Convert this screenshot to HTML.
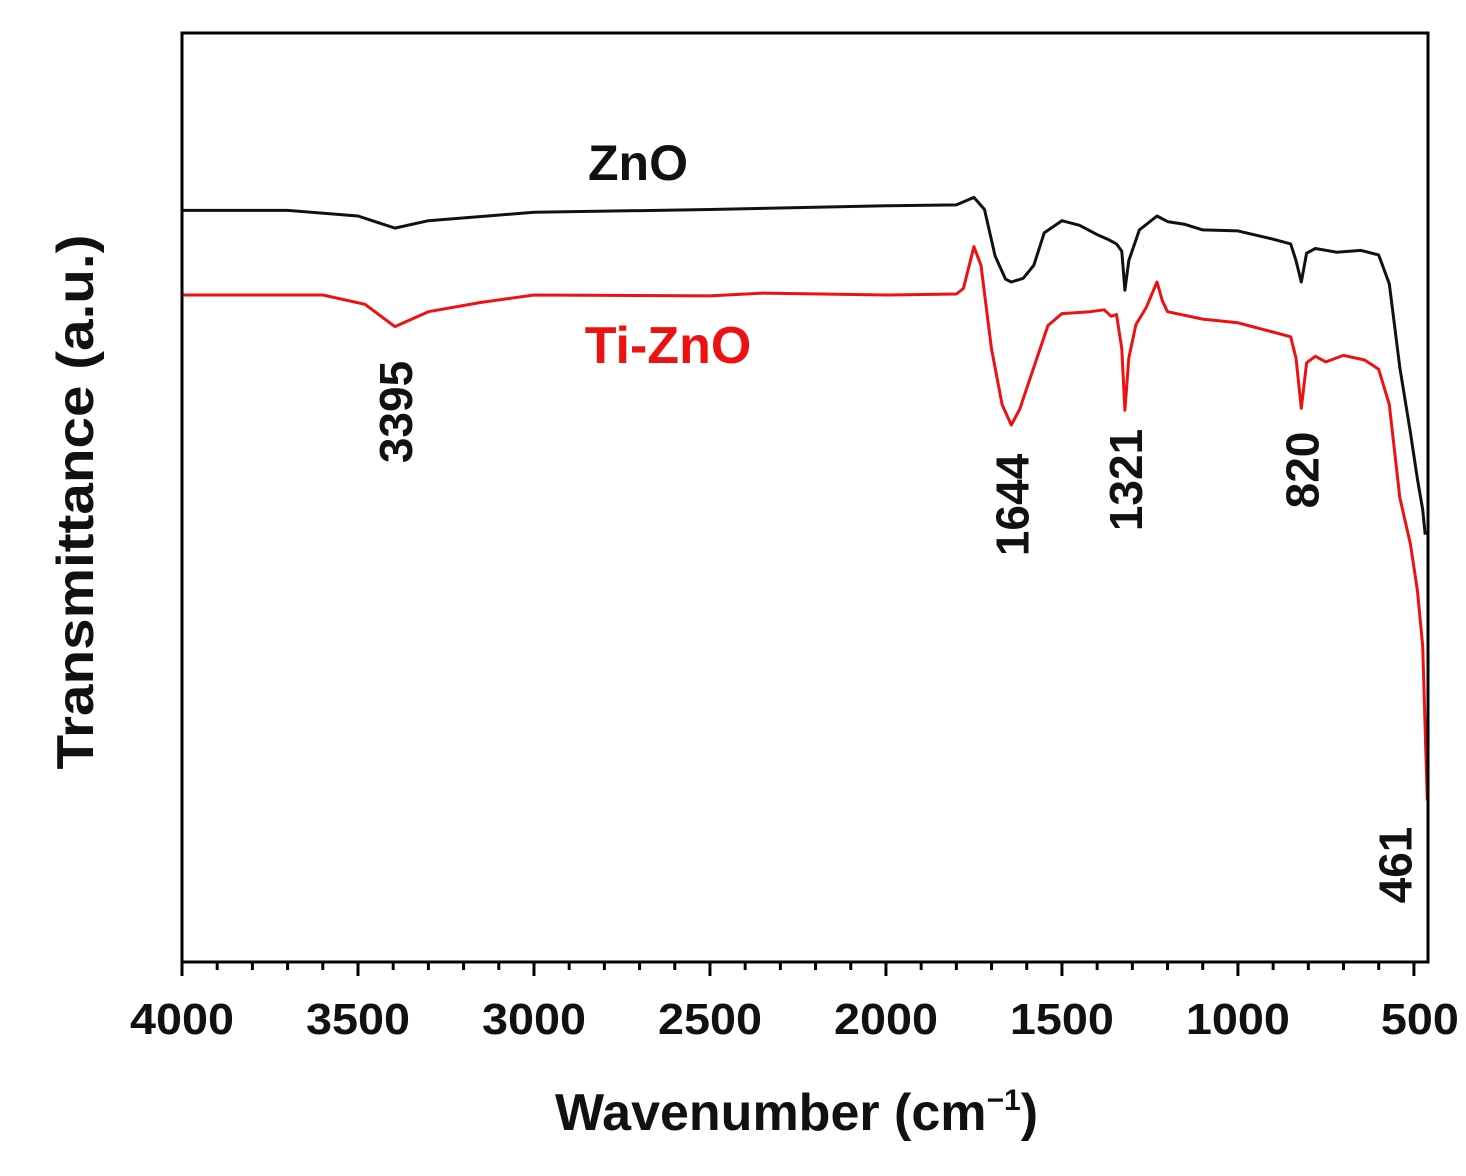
<!DOCTYPE html>
<html><head><meta charset="utf-8"><style>
body{margin:0;background:#fff;}
svg text{font-family:"Liberation Sans",Arial,sans-serif;font-weight:bold;}
</style></head><body>
<svg id="chart" width="1466" height="1171" viewBox="0 0 1466 1171" xmlns="http://www.w3.org/2000/svg">
<g id="plot"></g>
</svg>
<script>
const xTicks=[4000,3500,3000,2500,2000,1500,1000,500];
const znoWave=[4000,3700,3500,3395,3300,3000,2500,2000,1800,1750,1720,1690,1660,1644,1610,1580,1550,1500,1450,1400,1370,1345,1330,1321,1310,1280,1230,1200,1150,1100,1000,900,850,835,820,805,780,720,650,600,570,540,510,490,475,468];
const znoVals=[80.9,80.9,80.3,79.0,79.8,80.7,81.0,81.4,81.5,82.3,81.0,76,73.5,73.2,73.6,75,78.5,79.8,79.3,78.3,77.8,77.3,76.5,72.3,75.5,78.8,80.3,79.7,79.4,78.8,78.7,77.8,77.3,75.5,73.2,76.3,76.8,76.4,76.6,76.1,73,64,57,52,48.7,46];
const tiWave=[4000,3600,3480,3395,3300,3150,3000,2500,2350,2000,1800,1780,1750,1730,1700,1670,1644,1620,1580,1540,1500,1420,1380,1360,1345,1330,1321,1310,1290,1260,1230,1215,1200,1100,1000,900,850,835,820,805,780,750,700,640,600,570,540,510,490,475,462];
const tiVals=[71.8,71.8,70.8,68.4,70,71,71.8,71.7,72.0,71.8,71.9,72.5,77.0,75,66,60,57.8,59.5,64,68.5,69.8,70.0,70.2,69.5,69.7,66,59.4,65,68.6,70.5,73.2,71.2,70.0,69.2,68.8,67.8,67.3,65,59.6,64.5,65.2,64.6,65.3,64.8,63.8,60,50,45,40,34,17.4];
const peakLabels=["3395","1644","1321","820","461"];
const peakPos=[3395,1644,1321,820,461];
const peakLabelY=[412,505,480,470,865];
const peakLabelDx=[17,17,17,17,-16];

const L=182,R=1428,T=33,B=962;
const xMax=4000,xMin=460;
function xs(w){return L+(xMax-w)*(R-L)/(xMax-xMin);}
function ys(v){return B-v*(B-T)/100;}
const NS="http://www.w3.org/2000/svg";
const g=document.getElementById('plot');
function mk(tag,attrs,parent){const e=document.createElementNS(NS,tag);for(const k in attrs)e.setAttribute(k,attrs[k]);(parent||g).appendChild(e);return e;}

function series(w,v,color,name){
  let d=w.map((x,i)=>(i?'L':'M')+xs(x).toFixed(1)+','+ys(v[i]).toFixed(1)).join(' ');
  const p=mk('path',{d:d,fill:'none',stroke:color,'stroke-width':3,'stroke-linejoin':'round'});
  
  
}
series(znoWave,znoVals,'#111','zno-line');
series(tiWave,tiVals,'#ee1111','ti-zno-line');

const fr=mk('rect',{x:L,y:T,width:R-L,height:B-T,fill:'none',stroke:'#000','stroke-width':3});



for(let w=4000;w>=500;w-=100){
  const major=(w%500===0);
  const t=mk('line',{x1:xs(w),x2:xs(w),y1:B,y2:B+(major?14:8),stroke:'#000','stroke-width':3});
  
  
}
xTicks.forEach(w=>{
  const t=mk('text',{x:xs(w),y:1034,'text-anchor':'middle','font-size':44,fill:'#111',textLength:104,lengthAdjust:'spacingAndGlyphs'});
  t.textContent=w;
  if(w===500){t.setAttribute('textLength',78);t.setAttribute('x',xs(w)+6);}
  
  
});

peakLabels.forEach((s,i)=>{
  const x=xs(peakPos[i])+peakLabelDx[i],y=peakLabelY[i];
  const t=mk('text',{x:x,y:y,'text-anchor':'middle','font-size':46,fill:'#111',transform:`rotate(-90 ${x} ${y})`});
  t.textContent=s;
  
  
});

let a=mk('text',{x:638,y:180,'text-anchor':'middle','font-size':50,fill:'#111'});a.textContent='ZnO';


a=mk('text',{x:668,y:363,'text-anchor':'middle','font-size':52,fill:'#ee1111'});a.textContent='Ti-ZnO';



a=mk('text',{x:93,y:502,'text-anchor':'middle','font-size':52,fill:'#111',transform:'rotate(-90 93 502)',textLength:535,lengthAdjust:'spacingAndGlyphs'});a.textContent='Transmittance (a.u.)';


a=mk('text',{x:555,y:1130,'font-size':52,fill:'#111'});
a.innerHTML='Wavenumber (cm<tspan font-size="30" dy="-20">−1</tspan><tspan dy="20">)</tspan>';


</script>
</body></html>
